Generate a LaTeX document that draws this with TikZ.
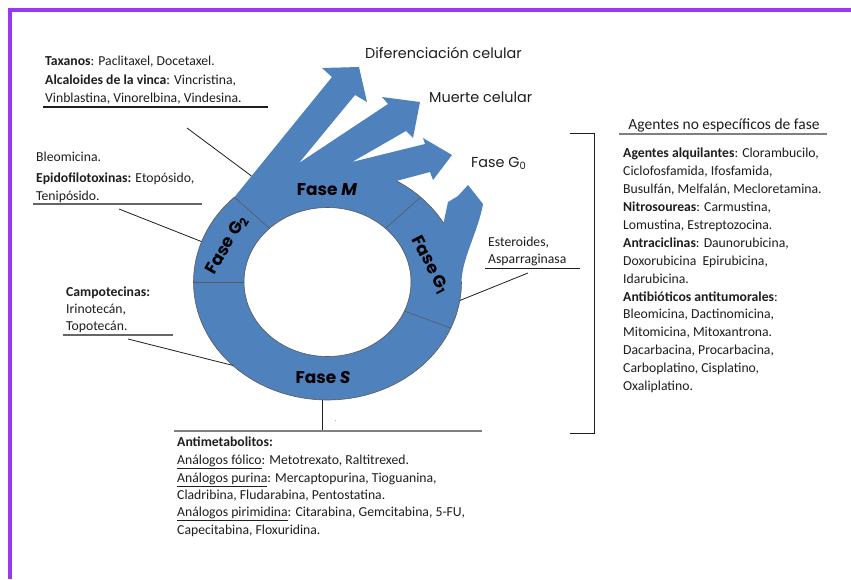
\documentclass[tikz,border=0pt]{standalone}
\usepackage{fontspec}
\setmainfont{Carlito}
\newfontfamily\gothic{Poppins}
\usetikzlibrary{calc}
\definecolor{marco}{RGB}{150,58,240}
\definecolor{azul}{RGB}{79,129,189}
\definecolor{tinta}{RGB}{30,30,30}
\definecolor{regla}{RGB}{128,128,128}
\newcommand{\cuerpo}{\fontsize{13.7}{17.7}\selectfont}

\begin{document}
\begin{tikzpicture}[x=1pt,y=-1pt,
  txt/.style={anchor=north west, inner sep=0pt, align=left, font=\cuerpo, text=tinta},
  fase/.style={font=\gothic\bfseries\fontsize{17}{19}\selectfont, text=black, inner sep=0pt},
  salida/.style={anchor=base west, inner sep=0pt, font=\gothic\fontsize{14.4}{16}\selectfont, text=tinta},
  guia/.style={line width=0.8pt, draw=tinta},
  reglaN/.style={line width=1.2pt, draw=tinta},
  reglaG/.style={line width=1.2pt, draw=black!60},
  reglaA/.style={line width=1.8pt, draw=regla},
  borde/.style={line width=0.6pt, draw=black!65}
]
\useasboundingbox (0,0) rectangle (851,579);
\fill[white] (0,0) rectangle (851,579);
\draw[marco, line width=4pt] (10,579) -- (10,10) -- (851,10);

% cell cycle ring with its three exit arrows
\fill[azul, even odd rule]
  (234.4,197.1) -- (332,77) -- (322,68) -- (359,67) -- (367,102) -- (355,95) -- (299,163)
  -- (388,104) -- (382,97) -- (420,102) -- (413,138) -- (406,131) -- (352,162)
  -- (425,144) -- (423,138) -- (452,155) -- (433,180) -- (430,172) -- (396.5,180.9)
  -- plot[domain=-59:-30, samples=12] ({327.5+134*cos(\x)},{282+118*sin(\x)})
  -- (448,202) -- (458,196) -- (468,185) -- (483,204)
  .. controls (478,232) and (462,258) .. (461.5,282)
  -- plot[domain=0:226, samples=80] ({327.5+134*cos(\x)},{282+118*sin(\x)})
  -- cycle
  (327.5,282) ellipse [x radius=83.5, y radius=74.5];
\draw[borde] (327.5,282) ellipse [x radius=83.5, y radius=74.5];
\draw[borde] plot[domain=0:226, samples=80] ({327.5+134*cos(\x)},{282+118*sin(\x)});
\draw[borde] plot[domain=-59:-30, samples=12] ({327.5+134*cos(\x)},{282+118*sin(\x)});

% phase boundaries
\draw[borde] (244,282) -- (193.5,282);
\draw[borde] (269.5,228.4) -- (234.4,197.1);
\draw[borde] (385.5,228.4) -- (420.6,197.1);
\draw[borde] (404.4,311.1) -- (450.8,328.1);

% phase names
\node[fase] (fm) at (327,190) {Fase \textit{M}};
\node[fase] (fs) at (323,378) {Fase \textit{S}};
\node[fase, rotate=60] (fg2) at (227,245) {Fase G\textsubscript{2}};
\node[fase, rotate=-63] (fg1) at (430,265) {Fase G\textsubscript{1}};

% arrow outcomes
\node[salida] (dif) at (365,58) {Diferenciación celular};
\node[salida] (mue) at (429,102) {Muerte celular};
\node[salida] (g0) at (471,167) {Fase G\textsubscript{0}};

% M phase agents
\node[txt] (tax) at (45,53.1) {\strut\textbf{Taxanos}: Paclitaxel, Docetaxel.\\[1.3pt]
  \textbf{Alcaloides de la vinca}: Vincristina,\\ Vinblastina, Vinorelbina, Vindesina.};
\draw[reglaN] (43,107) -- (268,107);
\coordinate (taxA) at (187,128);
\coordinate (taxB) at (251.5,176);
\draw[guia] (taxA) -- (taxB);

% G2 phase agents
\node[txt] (bleo) at (36,149.1) {\strut Bleomicina.\\[3pt]
  \textbf{Epidofilotoxinas:} Etopósido,\\ Tenipósido.};
\draw[reglaG] (33,204) -- (202,204);
\coordinate (bleoA) at (119,209);
\coordinate (bleoB) at (201.6,241.6);
\draw[guia] (bleoA) -- (bleoB);

% S/G2 agents
\node[txt] (camp) at (66,284.1) {\strut\textbf{Campotecinas:}\\[-1pt] Irinotecán,\\[-1pt] Topotecán.};
\draw[reglaG] (63,335) -- (173,335);
\coordinate (campA) at (128,339);
\coordinate (campB) at (232.8,365.4);
\draw[guia] (campA) -- (campB);

% G1 phase agents
\node[txt] (est) at (488,233.6) {\strut Esteroides,\\[-0.7pt] Asparraginasa};
\draw[reglaN] (485,268.5) -- (580,268.5);
\coordinate (estA) at (528,273);
\coordinate (estB) at (459.8,300.5);
\draw[guia] (estA) -- (estB);

% S phase agents
\coordinate (antiA) at (322,400);
\coordinate (antiB) at (322,431);
\draw[guia] (antiA) -- (antiB);
\draw[reglaA] (174,431) -- (482,431);
\node[inner sep=0pt, font=\fontsize{6}{7}\selectfont, text=tinta] (punto) at (336,421) {.};
\node[txt] (anti) at (177,433.9) {\strut\textbf{Antimetabolitos:}\\[0.6pt]
  \underline{Análogos fólico}: Metotrexato, Raltitrexed.\\[-0.4pt]
  \underline{Análogos purina}: Mercaptopurina, Tioguanina,\\[-0.4pt]
  Cladribina, Fludarabina, Pentostatina.\\[-0.4pt]
  \underline{Análogos pirimidina}: Citarabina, Gemcitabina, 5-FU,\\[-0.4pt]
  Capecitabina, Floxuridina.};

% phase-independent agents
\coordinate (llA) at (570,133);
\coordinate (llB) at (594,133);
\coordinate (llC) at (594,433);
\coordinate (llD) at (570,433);
\draw[guia] (llA) -- (llB) -- (llC) -- (llD);
\node[anchor=base, inner sep=0pt, font=\fontsize{15.5}{18}\selectfont, text=tinta] (titulo) at (724,129) {Agentes no específicos de fase};
\draw[reglaA] (619,134) -- (827,134);
\node[txt, font=\fontsize{13.7}{17.9}\selectfont] (alq) at (623,145.1) {\strut\textbf{Agentes alquilantes}: Clorambucilo,\\
  Ciclofosfamida, Ifosfamida,\\
  Busulfán, Melfalán, Mecloretamina.\\
  \textbf{Nitrosoureas}: Carmustina,\\
  Lomustina, Estreptozocina.\\
  \textbf{Antraciclinas}: Daunorubicina,\\
  Doxorubicina\ \ Epirubicina,\\
  Idarubicina.\\
  \textbf{Antibióticos antitumorales}:\\
  Bleomicina, Dactinomicina,\\
  Mitomicina, Mitoxantrona.\\
  Dacarbacina, Procarbacina,\\
  Carboplatino, Cisplatino,\\
  Oxaliplatino.};
\end{tikzpicture}
\end{document}
